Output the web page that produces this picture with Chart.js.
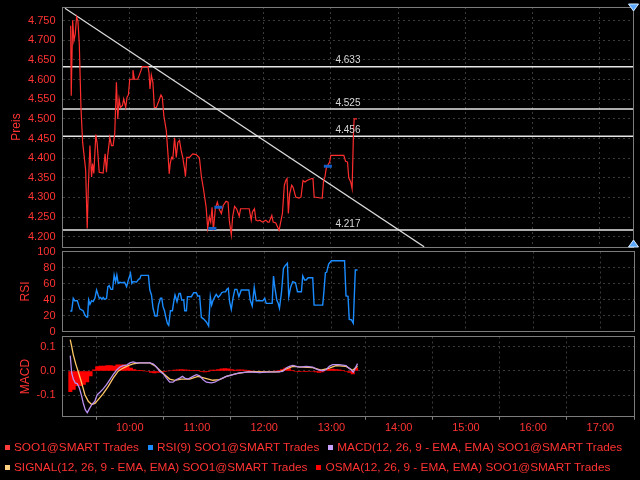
<!DOCTYPE html>
<html>
<head>
<meta charset="utf-8">
<script src="https://cdn.jsdelivr.net/npm/chart.js@4.4.0/dist/chart.umd.min.js"></script>
<style>
  html, body { margin: 0; padding: 0; background: #000; }
  #wrap { position: relative; width: 640px; height: 480px; background: #000; overflow: hidden; }
  #wrap canvas { position: absolute; left: 0; top: 0; }
  .legend { position: absolute; left: 5px; display: flex; gap: 9px; white-space: nowrap;
            font: 11.8px "Liberation Sans", Arial, sans-serif; color: #ff3333; line-height: 14px; }
  .legend .m { display: inline-block; width: 5px; height: 5px; margin-right: 4px; vertical-align: 1px; }
</style>
</head>
<body>
<div id="wrap">
  <canvas id="price" width="640" height="480"></canvas>
  <canvas id="rsi" width="640" height="480"></canvas>
  <canvas id="macd" width="640" height="480"></canvas>
  <div class="legend" style="top:440px">
    <span><i class="m" style="background:#ff3b3b"></i>SOO1@SMART Trades</span>
    <span><i class="m" style="background:#1a8cff"></i>RSI(9) SOO1@SMART Trades</span>
    <span><i class="m" style="background:#c8a0ff"></i>MACD(12, 26, 9 - EMA, EMA) SOO1@SMART Trades</span>
  </div>
  <div class="legend" style="top:460px">
    <span><i class="m" style="background:#ffd080"></i>SIGNAL(12, 26, 9 - EMA, EMA) SOO1@SMART Trades</span>
    <span><i class="m" style="background:#ff0000"></i>OSMA(12, 26, 9 - EMA, EMA) SOO1@SMART Trades</span>
  </div>
</div>
<script>
// time axis in minutes after midnight (9:00 .. 17:30)
const dayStart = 540;
const dayEnd = 1050;
const hourTicks = [600, 660, 720, 780, 840, 900, 960, 1020];
const priceTicks = [4.2, 4.25, 4.3, 4.35, 4.4, 4.45, 4.5, 4.55, 4.6, 4.65, 4.7, 4.75];
const rsiTicks = [0, 20, 40, 60, 80, 100];
const macdTicks = [-0.1, 0, 0.1];

const priceTimes = [547.3, 547.8, 549.1, 550.2, 551.4, 552.6, 553.8, 555.0, 556.5, 558.0, 559.8, 560.7, 562.1, 563.0, 564.5, 566.0, 566.9, 568.0, 569.8, 571.0,
  572.8, 576.3, 578.1, 579.3, 580.2, 582.3, 583.8, 585.2, 586.7, 588.2, 589.4, 590.6, 591.8, 593.6, 594.7, 596.5, 597.7, 598.9, 600.1, 602.5,
  603.0, 604.3, 607.2, 609.0, 611.4, 616.4, 617.3, 618.2, 619.4, 620.8, 622.1, 623.9, 626.2, 628.0, 629.2, 630.6, 632.8, 634.5, 635.4, 636.3,
  637.5, 638.6, 640.2, 641.7, 643.1, 644.6, 646.1, 647.5, 649.1, 649.9, 651.1, 653.5, 656.4, 659.5, 662.4, 664.2, 666.0, 668.4, 669.8, 671.3,
  672.5, 673.7, 674.9, 676.6, 678.4, 680.2, 682.0, 683.8, 686.2, 688.0, 689.1, 690.9, 692.1, 693.8, 695.6, 698.0, 699.2, 706.9, 708.7, 709.8,
  711.6, 712.9, 714.7, 716.4, 718.8, 721.8, 723.6, 724.7, 727.1, 728.3, 730.7, 733.6, 735.4, 736.6, 738.3, 739.6, 740.7, 741.9, 743.1, 744.9,
  746.1, 748.5, 751.4, 753.2, 755.0, 756.8, 758.5, 762.7, 763.9, 765.0, 769.2, 772.2, 773.4, 774.6, 775.7, 777.0, 778.8, 779.9, 787.0, 791.5,
  793.0, 794.8, 795.9, 797.7, 798.9, 800.1, 800.7, 803.3];
const priceValues = [4.737, 4.559, 4.751, 4.699, 4.716, 4.760, 4.749, 4.691, 4.529, 4.440, 4.394, 4.369, 4.221, 4.318, 4.432, 4.352, 4.386, 4.361, 4.460, 4.437,
  4.364, 4.362, 4.411, 4.364, 4.402, 4.453, 4.432, 4.432, 4.462, 4.593, 4.500, 4.551, 4.529, 4.534, 4.551, 4.529, 4.555, 4.561, 4.601, 4.601,
  4.624, 4.601, 4.601, 4.614, 4.633, 4.633, 4.618, 4.576, 4.612, 4.593, 4.529, 4.529, 4.546, 4.561, 4.555, 4.508, 4.470, 4.402, 4.360, 4.386,
  4.402, 4.398, 4.452, 4.402, 4.440, 4.445, 4.419, 4.402, 4.373, 4.353, 4.402, 4.402, 4.411, 4.409, 4.401, 4.352, 4.322, 4.275, 4.221, 4.250,
  4.237, 4.275, 4.216, 4.271, 4.288, 4.269, 4.259, 4.280, 4.290, 4.288, 4.242, 4.204, 4.250, 4.277, 4.271, 4.252, 4.271, 4.271, 4.242, 4.263,
  4.271, 4.242, 4.240, 4.242, 4.237, 4.242, 4.237, 4.237, 4.254, 4.237, 4.235, 4.216, 4.242, 4.259, 4.331, 4.343, 4.348, 4.259, 4.309, 4.331,
  4.326, 4.301, 4.298, 4.301, 4.343, 4.339, 4.343, 4.348, 4.348, 4.301, 4.299, 4.298, 4.343, 4.352, 4.373, 4.381, 4.390, 4.407, 4.407, 4.407,
  4.392, 4.390, 4.350, 4.339, 4.322, 4.462, 4.500, 4.500];

// trade markers (blue dashes)
const tradeTimes = [674.0, 679.3, 777.2];
const tradeValues = [4.221, 4.275, 4.379];

// horizontal levels and trend line
const levelValues = [4.633, 4.525, 4.456, 4.217];
const levelLabelTime = 784;
const trendTimes = [542.2, 863.3];
const trendValues = [4.782, 4.174];

const rsiTimes = [546.9, 548.2, 549.6, 550.9, 553.2, 554.4, 555.6, 557.1, 558.5, 560.0, 561.5, 562.4, 563.3, 564.5, 566.0, 567.4, 568.9, 570.4, 571.6, 572.8,
  574.0, 575.2, 576.3, 577.8, 579.3, 580.5, 581.7, 583.2, 584.7, 586.1, 587.4, 588.5, 589.7, 591.2, 593.0, 595.4, 597.2, 598.9, 600.7, 601.9,
  603.0, 606.1, 607.8, 609.0, 610.1, 616.7, 617.9, 619.4, 620.8, 622.6, 624.4, 625.6, 627.4, 628.6, 629.7, 631.0, 632.1, 633.6, 634.8, 636.3,
  638.1, 639.3, 640.4, 642.2, 644.0, 645.2, 646.4, 648.2, 649.1, 650.6, 651.5, 655.0, 657.1, 659.5, 660.6, 662.4, 663.9, 666.0, 668.4, 670.4,
  671.9, 673.1, 674.2, 676.0, 677.2, 679.0, 680.8, 682.0, 683.8, 685.5, 686.7, 688.0, 689.1, 690.6, 692.1, 693.8, 695.6, 697.4, 699.5, 706.3,
  707.5, 709.3, 711.1, 712.9, 718.8, 720.5, 721.8, 727.1, 728.3, 729.4, 731.2, 732.5, 733.6, 735.4, 737.2, 738.4, 740.7, 741.9, 743.7, 745.5,
  747.9, 749.7, 753.2, 754.4, 756.1, 757.4, 759.2, 763.3, 764.5, 772.2, 773.4, 774.6, 775.7, 777.5, 779.9, 791.7, 793.0, 794.8, 795.9, 797.7,
  799.5, 801.3, 803.3];
const rsiValues = [25.6, 25.6, 41.5, 38.5, 38.5, 33, 28, 27, 25.6, 20.6, 18, 18, 39.4, 34, 38.5, 37.5, 41.5, 51.9, 46.5, 41.5,
  42.5, 40.2, 42.7, 40.2, 41.5, 56, 57.3, 52.7, 52.7, 70.6, 62.3, 70.6, 60.2, 61.5, 61, 61.5, 56, 65.2, 72.7, 60.2,
  62.3, 61.8, 65.2, 66, 70.2, 70.2, 51.9, 45.6, 29, 19.4, 19.4, 33, 41.5, 41.5, 31, 26, 18.5, 10.2, 7.7, 26,
  26, 37.2, 45.6, 37.2, 47.7, 47.7, 39.4, 39.4, 26, 26, 43.5, 43.5, 48.5, 48.5, 44.4, 44.4, 17.7, 15.5, 12, 6.9,
  43.5, 33, 38.5, 43.5, 46.5, 42.7, 45.6, 48.5, 49.5, 49.5, 52.7, 54, 37.2, 27.7, 41.5, 52.7, 52.7, 43.5, 51.9, 51.9,
  39.4, 31.9, 55.2, 38.5, 38.5, 41.5, 35.2, 35.2, 69.4, 56, 39.4, 35.2, 29, 48.5, 79, 81.7, 85.2, 43.5, 56, 62.3,
  61, 49.7, 49.7, 69.4, 64.4, 64.4, 67.2, 67.2, 33, 33, 51.9, 73.5, 74, 84.4, 88.5, 88.5, 44.4, 44, 15.2, 14.7,
  10.2, 76.9, 76.9];

const macdTimes = [546.9, 548.2, 549.6, 551.4, 553.2, 555.0, 557.1, 558.5, 560.3, 562.1, 563.9, 566.3, 568.9, 571.0, 573.4, 576.3, 579.3, 582.3, 585.2, 588.2,
  591.2, 594.1, 597.2, 600.1, 603.0, 606.1, 615.0, 617.9, 620.8, 623.9, 626.8, 629.7, 632.8, 635.7, 638.6, 641.7, 644.6, 647.0, 649.1, 652.0,
  656.4, 659.5, 662.4, 665.3, 668.4, 672.8, 675.8, 680.2, 686.2, 692.1, 698.0, 706.9, 715.8, 721.8, 730.7, 736.6, 739.6, 742.5, 745.5, 751.4,
  757.4, 763.3, 767.8, 772.2, 775.2, 778.1, 781.1, 787.0, 793.0, 797.4, 799.5, 801.3, 803.3];
const macdValues = [0.063, -0.008, -0.033, -0.049, -0.052, -0.069, -0.103, -0.131, -0.158, -0.171, -0.155, -0.137, -0.124, -0.097, -0.087, -0.073, -0.056, -0.035, -0.015, 0.003,
  0.016, 0.022, 0.024, 0.033, 0.037, 0.033, 0.033, 0.033, 0.029, 0.016, -0.001, -0.011, -0.029, -0.046, -0.046, -0.035, -0.029, -0.022, -0.029, -0.033,
  -0.022, -0.015, -0.02, -0.035, -0.046, -0.049, -0.046, -0.035, -0.022, -0.015, -0.008, -0.004, -0.007, -0.005, -0.004, -0.002, 0.012, 0.019, 0.023, 0.016,
  0.019, 0.016, 0.005, 0.001, 0.005, 0.019, 0.026, 0.026, 0.022, 0.005, -0.005, 0.012, 0.030];

const signalTimes = [546.9, 548.2, 549.6, 552.0, 554.4, 557.1, 560.0, 563.0, 566.0, 568.9, 571.9, 576.3, 580.8, 585.2, 589.7, 594.1, 598.6, 603.0, 609.0, 617.9,
  622.3, 626.8, 631.2, 635.7, 640.2, 646.1, 653.5, 660.9, 666.9, 674.2, 680.2, 686.2, 695.1, 706.9, 721.8, 733.6, 739.6, 745.5, 754.4, 763.3,
  770.7, 778.1, 784.1, 793.0, 798.9, 803.3];
const signalValues = [0.128, 0.101, 0.067, 0.026, -0.008, -0.049, -0.097, -0.124, -0.137, -0.133, -0.117, -0.093, -0.063, -0.029, -0.001, 0.012, 0.022, 0.029, 0.033, 0.033,
  0.022, 0.003, -0.015, -0.033, -0.038, -0.033, -0.033, -0.022, -0.029, -0.038, -0.035, -0.022, -0.011, -0.003, -0.004, -0.004, 0.008, 0.019, 0.016, 0.014,
  0.003, 0.012, 0.022, 0.019, 0.003, 0.019];

const osmaTimes = [547, 550, 553, 556, 559, 562, 565, 568, 571, 574, 577, 580, 583, 586, 589, 592, 595, 598, 601, 604,
  607, 610, 613, 616, 619, 622, 625, 628, 631, 634, 637, 640, 643, 646, 649, 652, 655, 658, 661, 664,
  667, 670, 673, 676, 679, 682, 685, 688, 691, 694, 697, 700, 703, 706, 709, 712, 715, 718, 721, 724,
  727, 730, 733, 736, 739, 742, 745, 748, 751, 754, 757, 760, 763, 766, 769, 772, 775, 778, 781, 784,
  787, 790, 793, 796, 799, 802];
const osmaValues = [-0.085, -0.075, -0.06, -0.06, -0.055, -0.045, -0.02, 0.005, 0.018, 0.02, 0.02, 0.022, 0.022, 0.02, 0.025, 0.025, 0.025, 0.02, 0.012, 0.006,
  0.003, 0.001, 0, -0.002, -0.006, -0.008, -0.006, -0.004, -0.003, 0, 0.002, 0.004, 0.005, 0.006, 0.005, 0.004, 0.003, 0.003, 0.001, -0.003,
  -0.004, -0.003, 0.004, 0.004, 0.006, 0.009, 0.01, 0.009, 0.006, 0.004, 0.005, 0.005, 0.004, 0.001, 0, -0.001, -0.002, -0.002, -0.001, -0.002,
  -0.001, 0, 0.001, 0.006, 0.012, 0.01, 0.003, -0.002, -0.003, -0.002, -0.003, -0.002, -0.002, -0.004, -0.006, -0.004, 0.002, 0.007, 0.008, 0.006,
  0.005, 0.003, -0.002, -0.006, -0.012, 0.012];

const RED = "#ff3333";
const GRID = "#3a3a3a";
const FONT = "'Liberation Sans', Arial, sans-serif";

function pts(xs, ys) {
  const n = Math.min(xs.length, ys.length);
  const out = [];
  for (let i = 0; i < n; i++) out.push({x: xs[i], y: ys[i]});
  return out;
}

function hhmm(v) {
  return Math.floor(v / 60) + ":" + String(v % 60).padStart(2, "0");
}

function xAxis(showLabels) {
  return {
    type: "linear", min: dayStart, max: dayEnd, offset: false,
    afterBuildTicks: s => { s.ticks = hourTicks.map(v => ({value: v})); },
    grid: { color: GRID, drawTicks: showLabels, tickLength: 3, tickColor: "#808080", tickBorderDash: [] },
    border: { display: false, dash: [2, 3] },
    ticks: { display: showLabels, color: RED, font: {family: FONT, size: 11}, padding: 2,
             maxRotation: 0, autoSkip: false, callback: v => hhmm(v) },
    afterFit: s => { s.height = showLabels ? 20 : 0; s.paddingLeft = 0; s.paddingRight = 0; }
  };
}

function yAxis(title, titlePad, min, max, ticks, fmt) {
  return {
    position: "left", min: min, max: max,
    afterBuildTicks: s => { s.ticks = ticks.map(v => ({value: v})); },
    grid: { color: GRID, drawTicks: false },
    border: { display: false, dash: [2, 3] },
    ticks: { color: RED, font: {family: FONT, size: 11}, padding: 7, autoSkip: false, callback: fmt },
    title: { display: true, text: title, color: RED, font: {family: FONT, size: 12},
             padding: {top: titlePad, bottom: 0} },
    // fixed width, and no extra room for the outer labels
    afterFit: s => { s.width = 62.5; s.paddingTop = 0; s.paddingBottom = 0; }
  };
}

// grey frame around each panel
const framePlugin = {
  id: "frame",
  afterDraw(chart) {
    const a = chart.chartArea, ctx = chart.ctx;
    ctx.save();
    ctx.strokeStyle = "#7c7c7c";
    ctx.lineWidth = 1;
    const l = Math.floor(a.left) + 0.5, t = Math.floor(a.top) + 0.5;
    const r = Math.floor(a.right) + 0.5, b = Math.floor(a.bottom) + 0.5;
    ctx.strokeRect(l, t, r - l, b - t);
    ctx.restore();
  }
};

// value labels above the horizontal levels + scroll arrows on the right edge
const levelLabels = {
  id: "levelLabels",
  afterDatasetsDraw(chart) {
    const {ctx, scales: {x, y}} = chart;
    ctx.save();
    ctx.fillStyle = "#d8d8d8";
    ctx.font = "10px " + FONT;
    ctx.textBaseline = "bottom";
    levelValues.forEach(v => {
      ctx.fillText(v.toFixed(3), x.getPixelForValue(levelLabelTime), y.getPixelForValue(v) - 1);
    });
    ctx.restore();
  },
  afterDraw(chart) {
    const a = chart.chartArea, ctx = chart.ctx;
    const cx = Math.floor(a.right) + 0.5;
    ctx.save();
    ctx.fillStyle = "#5aa8ff";
    ctx.strokeStyle = "#d8ecff";
    ctx.lineWidth = 1;
    ctx.beginPath();
    ctx.moveTo(cx - 5, a.top - 3); ctx.lineTo(cx + 5, a.top - 3); ctx.lineTo(cx, a.top + 4); ctx.closePath();
    ctx.fill(); ctx.stroke();
    ctx.beginPath();
    ctx.moveTo(cx - 5, a.bottom); ctx.lineTo(cx + 5, a.bottom); ctx.lineTo(cx, a.bottom - 7); ctx.closePath();
    ctx.fill(); ctx.stroke();
    ctx.restore();
  }
};

function baseOptions(padTop, padBottom) {
  return {
    responsive: false, animation: false, devicePixelRatio: 1,
    layout: { padding: {top: padTop, bottom: padBottom, left: 0, right: 6} },
    plugins: { legend: {display: false}, tooltip: {enabled: false} },
    elements: { point: {radius: 0} }
  };
}

// price panel
const priceOpts = baseOptions(6, 233);
priceOpts.scales = {
  x: xAxis(false),
  y: yAxis("Preis", 9.5, 4.1736, 4.785, priceTicks, v => v.toFixed(3))
};
const priceSets = [
  { data: pts(tradeTimes, tradeValues), showLine: false, pointStyle: "line", pointRadius: 4,
    borderColor: "#1560c8", borderWidth: 3 },
  { data: pts(priceTimes, priceValues), borderColor: "#ff2d2d", borderWidth: 1.2, pointRadius: 0 }
];
levelValues.forEach(v => {
  priceSets.push({ data: pts([dayStart, dayEnd], [v, v]), borderColor: "#e6e6e6", borderWidth: 1.5, pointRadius: 0 });
});
priceSets.push({ data: pts(trendTimes, trendValues), borderColor: "#dcdcdc", borderWidth: 1.2, pointRadius: 0 });

new Chart(document.getElementById("price"), {
  type: "line",
  data: { datasets: priceSets },
  options: priceOpts,
  plugins: [framePlugin, levelLabels]
});

// RSI panel
const rsiOpts = baseOptions(251.5, 148.5);
rsiOpts.scales = {
  x: xAxis(false),
  y: yAxis("RSI", 18.5, 0, 100, rsiTicks, v => String(v))
};
new Chart(document.getElementById("rsi"), {
  type: "line",
  data: { datasets: [
    { data: pts(rsiTimes, rsiValues), borderColor: "#1a8cff", borderWidth: 1.4, pointRadius: 0 }
  ] },
  options: rsiOpts,
  plugins: [framePlugin]
});

// MACD panel
const macdOpts = baseOptions(336.5, 43.3);
macdOpts.scales = {
  x: xAxis(true),
  y: yAxis("MACD", 18.5, -0.187, 0.141, macdTicks, v => v.toFixed(1))
};
new Chart(document.getElementById("macd"), {
  type: "line",
  data: { datasets: [
    { data: pts(macdTimes, macdValues), borderColor: "#b98ff0", borderWidth: 1.3, pointRadius: 0 },
    { data: pts(signalTimes, signalValues), borderColor: "#ffc766", borderWidth: 1.3, pointRadius: 0 },
    { type: "bar", data: pts(osmaTimes, osmaValues), backgroundColor: "#ff0000", borderWidth: 0,
      barThickness: 3.4, grouped: false }
  ] },
  options: macdOpts,
  plugins: [framePlugin]
});
</script>
</body>
</html>
